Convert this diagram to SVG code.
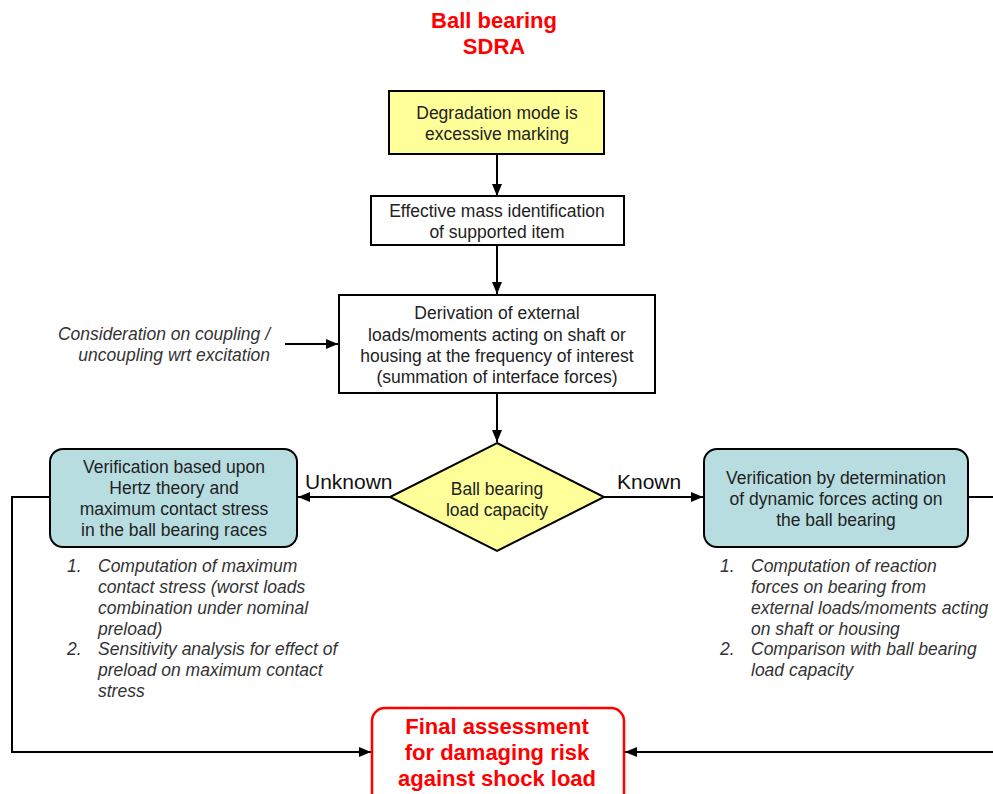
<svg xmlns="http://www.w3.org/2000/svg" width="993" height="794" viewBox="0 0 993 794">
  <style>
    .box { fill: #ffffff; stroke: #000000; stroke-width: 2; }
    .start { fill: #ffff99; stroke: #000000; stroke-width: 2; }
    .teal { fill: #b7dde0; stroke: #000000; stroke-width: 2; }
    .final { fill: #ffffff; stroke: #ff0000; stroke-width: 2.5; }
    .t { font-family: "Liberation Sans", Arial, sans-serif; font-size: 17.5px; fill: #222222; text-anchor: middle; }
    .it { font-family: "Liberation Sans", Arial, sans-serif; font-size: 17.5px; font-style: italic; fill: #333333; }
    .lbl { font-family: "Liberation Sans", Arial, sans-serif; font-size: 21px; fill: #111111; }
    .red { font-family: "Liberation Sans", Arial, sans-serif; font-size: 22px; font-weight: bold; fill: #ff0000; text-anchor: middle; }
    .line { fill: none; stroke: #000000; stroke-width: 2; }
  </style>
  <defs>
    <marker id="arrow" viewBox="0 0 12 10" refX="12" refY="5" markerWidth="12" markerHeight="10" orient="auto" markerUnits="userSpaceOnUse">
      <path d="M0,0 L12,5 L0,10 z" fill="#000000"/>
    </marker>
  </defs>
  <rect x="0" y="0" width="993" height="794" fill="#ffffff"/>

  <!-- title -->
  <g id="title">
    <text class="red" x="494" y="28">Ball bearing</text>
    <text class="red" x="494" y="54">SDRA</text>
  </g>

  <!-- connectors -->
  <g id="connectors">
    <line class="line" x1="497" y1="154" x2="497" y2="196" marker-end="url(#arrow)"/>
    <line class="line" x1="497" y1="245" x2="497" y2="294" marker-end="url(#arrow)"/>
    <line class="line" x1="285" y1="344" x2="338" y2="344" marker-end="url(#arrow)"/>
    <line class="line" x1="497" y1="393" x2="497" y2="442" marker-end="url(#arrow)"/>
    <line class="line" x1="390" y1="497" x2="298" y2="497" marker-end="url(#arrow)"/>
    <line class="line" x1="604" y1="497" x2="703" y2="497" marker-end="url(#arrow)"/>
    <polyline class="line" points="50,497 12,497 12,752 371,752" marker-end="url(#arrow)"/>
    <polyline class="line" points="968,497 995,497 995,752 625,752" marker-end="url(#arrow)"/>
    <text class="lbl" x="305" y="489">Unknown</text>
    <text class="lbl" x="617" y="489">Known</text>
  </g>

  <g id="degradation-mode">
    <rect class="start" x="389" y="91" width="215" height="63"/>
    <text class="t" x="497" y="119">Degradation mode is</text>
    <text class="t" x="497" y="140">excessive marking</text>
  </g>

  <g id="effective-mass">
    <rect class="box" x="371" y="196" width="253" height="49"/>
    <text class="t" x="497" y="217">Effective mass identification</text>
    <text class="t" x="497" y="238">of supported item</text>
  </g>

  <g id="coupling-note">
    <text class="it" x="270" y="340" text-anchor="end">Consideration on coupling /</text>
    <text class="it" x="270" y="361" text-anchor="end">uncoupling wrt excitation</text>
  </g>

  <g id="external-loads">
    <rect class="box" x="339" y="295" width="316" height="98"/>
    <text class="t" x="497" y="319">Derivation of external</text>
    <text class="t" x="497" y="341">loads/moments  acting on shaft or</text>
    <text class="t" x="497" y="362">housing at the frequency of interest</text>
    <text class="t" x="497" y="383">(summation of interface forces)</text>
  </g>

  <g id="load-capacity">
    <polygon class="start" points="497,443 604,497 497,551 390,497"/>
    <text class="t" x="497" y="495">Ball bearing</text>
    <text class="t" x="497" y="516">load capacity</text>
  </g>

  <g id="hertz-verification">
    <rect class="teal" x="50" y="449" width="247" height="98" rx="13"/>
    <text class="t" x="174" y="473">Verification based upon</text>
    <text class="t" x="174" y="494">Hertz theory and</text>
    <text class="t" x="174" y="515">maximum  contact stress</text>
    <text class="t" x="174" y="536">in the ball bearing races</text>
  </g>

  <g id="hertz-steps">
    <text class="it" x="67" y="572">1.</text>
    <text class="it" x="98" y="572">Computation of maximum</text>
    <text class="it" x="98" y="593">contact stress (worst loads</text>
    <text class="it" x="98" y="614">combination under nominal</text>
    <text class="it" x="98" y="635">preload)</text>
    <text class="it" x="67" y="655">2.</text>
    <text class="it" x="98" y="655">Sensitivity analysis for effect of</text>
    <text class="it" x="98" y="676">preload on maximum contact</text>
    <text class="it" x="98" y="697">stress</text>
  </g>

  <g id="dynamic-forces-verification">
    <rect class="teal" x="704" y="449" width="264" height="98" rx="13"/>
    <text class="t" x="836" y="484">Verification by determination</text>
    <text class="t" x="836" y="505">of dynamic forces acting on</text>
    <text class="t" x="836" y="526">the ball bearing</text>
  </g>

  <g id="dynamic-steps">
    <text class="it" x="720" y="572">1.</text>
    <text class="it" x="751" y="572">Computation of  reaction</text>
    <text class="it" x="751" y="593">forces on bearing from</text>
    <text class="it" x="751" y="614">external loads/moments acting</text>
    <text class="it" x="751" y="635">on shaft or housing</text>
    <text class="it" x="720" y="655">2.</text>
    <text class="it" x="751" y="655">Comparison with ball bearing</text>
    <text class="it" x="751" y="676">load capacity</text>
  </g>

  <g id="final-assessment">
    <rect class="final" x="372" y="708" width="252" height="100" rx="13"/>
    <text class="red" x="497" y="734">Final assessment</text>
    <text class="red" x="497" y="760">for damaging risk</text>
    <text class="red" x="497" y="786">against shock load</text>
  </g>
</svg>
